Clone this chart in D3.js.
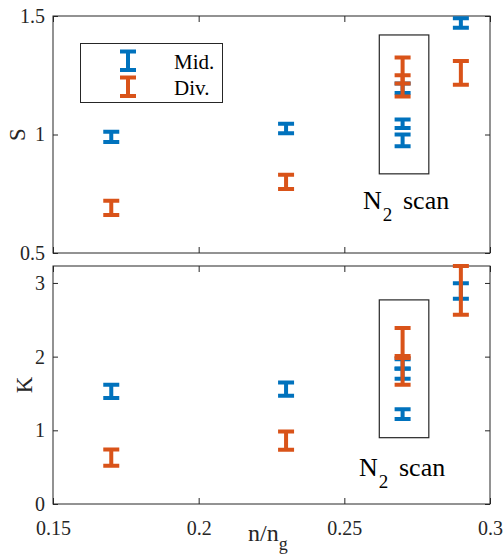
<!DOCTYPE html>
<html>
<head>
<meta charset="utf-8">
<script src="https://cdn.jsdelivr.net/npm/d3@7"></script>
<style>
  html, body { margin: 0; padding: 0; background: #fff; }
  svg { display: block; }
  svg text { font-family: 'Liberation Serif', 'Times New Roman', serif; }
</style>
</head>
<body>
<div id="chart"></div>
<script>
// ---- data ----
const xTicks = [0.15, 0.2, 0.25, 0.3]
const sTicks = [0.5, 1, 1.5]
const kTicks = [0, 1, 2, 3]

// Mid. series (blue)
const midX = [0.17, 0.23, 0.27, 0.27, 0.27, 0.29]
const midS = [0.99, 1.025, 1.195, 1.045, 0.975, 1.47]
const midSErr = [0.022, 0.02, 0.02, 0.018, 0.025, 0.02]
const midK = [1.53, 1.56, 1.22, 1.90, 1.77, 2.89]
const midKErr = [0.09, 0.09, 0.065, 0.065, 0.07, 0.105]

// Div. series (orange)
const divX = [0.17, 0.23, 0.27, 0.27, 0.29]
const divS = [0.69, 0.80, 1.27, 1.205, 1.26]
const divSErr = [0.03, 0.03, 0.055, 0.045, 0.05]
const divK = [0.63, 0.86, 2.20, 1.80, 2.90]
const divKErr = [0.11, 0.125, 0.19, 0.18, 0.33]

// "N2 scan" boxes [x0, x1, y0, y1]
const scanBoxS = [0.262, 0.279, 0.834, 1.42]
const scanBoxK = [0.262, 0.279, 0.9, 2.77]

const BLUE = '#0072BD'
const ORANGE = '#D95319'
const AXIS = '#262626'

const W = 504, H = 556
const left = 53, right = 490
const top1 = 16, bot1 = 253
const top2 = 266, bot2 = 504
const capHalf = 8
const lw = 4

const svg = d3.select('#chart').append('svg')
  .attr('width', W).attr('height', H)

const x = d3.scaleLinear().domain([0.15, 0.3]).range([left, right])
const yS = d3.scaleLinear().domain([0.5, 1.5]).range([bot1, top1])
const yK = d3.scaleLinear().domain([0, 3.23]).range([bot2, top2])

function drawErrorBars(g, xs, ys, es, yScale, color) {
  const data = xs.map((v, i) => ({ x: v, y: ys[i], e: es[i] }))
  const bars = g.append('g')
    .attr('stroke', color).attr('stroke-width', lw).attr('fill', 'none')
  bars.selectAll('path').data(data).join('path')
    .attr('d', d => {
      const cx = x(d.x)
      const y0 = yScale(d.y - d.e), y1 = yScale(d.y + d.e)
      return `M${cx},${y0}V${y1}` +
        `M${cx - capHalf},${y0}H${cx + capHalf}` +
        `M${cx - capHalf},${y1}H${cx + capHalf}`
    })
}

function drawPanel(yScale, yTicks, y0, y1, showX) {
  const g = svg.append('g')

  g.append('rect')
    .attr('x', left).attr('y', y0)
    .attr('width', right - left).attr('height', y1 - y0)
    .attr('fill', '#fff')

  const styleAxis = a => {
    a.attr('font-family', null)
    a.select('.domain').remove()
    a.selectAll('.tick line').attr('stroke', AXIS)
    a.selectAll('.tick text')
      .attr('fill', AXIS).attr('font-size', '20px')
  }

  g.append('g')
    .attr('transform', `translate(${left},0)`)
    .call(d3.axisLeft(yScale).tickValues(yTicks).tickSize(-5).tickSizeOuter(0)
      .tickPadding(8).tickFormat(d3.format('')))
    .call(styleAxis)
  g.append('g')
    .attr('transform', `translate(${right},0)`)
    .call(d3.axisRight(yScale).tickValues(yTicks).tickSize(-5).tickSizeOuter(0)
      .tickFormat(''))
    .call(styleAxis)
  g.append('g')
    .attr('transform', `translate(0,${y0})`)
    .call(d3.axisTop(x).tickValues(xTicks).tickSize(-6).tickSizeOuter(0)
      .tickFormat(''))
    .call(styleAxis)
  g.append('g')
    .attr('transform', `translate(0,${y1})`)
    .call(d3.axisBottom(x).tickValues(xTicks).tickSize(-6).tickSizeOuter(0)
      .tickPadding(12).tickFormat(showX ? d3.format('') : ''))
    .call(styleAxis)
    .call(a => a.selectAll('.tick text').attr('dy', '0.95em'))

  g.append('rect')
    .attr('x', left).attr('y', y0)
    .attr('width', right - left).attr('height', y1 - y0)
    .attr('fill', 'none').attr('stroke', AXIS).attr('stroke-width', 1)
  return g
}

// ---- top panel: S ----
const gS = drawPanel(yS, sTicks, top1, bot1, false)
drawErrorBars(gS, midX, midS, midSErr, yS, BLUE)
drawErrorBars(gS, divX, divS, divSErr, yS, ORANGE)

gS.append('rect')
  .attr('x', x(scanBoxS[0])).attr('y', yS(scanBoxS[3]))
  .attr('width', x(scanBoxS[1]) - x(scanBoxS[0]))
  .attr('height', yS(scanBoxS[2]) - yS(scanBoxS[3]))
  .attr('fill', 'none').attr('stroke', AXIS).attr('stroke-width', 1.2)

// legend
const leg = gS.append('g')
leg.append('rect')
  .attr('x', 80.5).attr('y', 43.5).attr('width', 142).attr('height', 59)
  .attr('fill', '#fff').attr('stroke', AXIS).attr('stroke-width', 1)
const legItems = [
  { label: 'Mid.', color: BLUE, y0: 51.5, y1: 70, ty: 68.5 },
  { label: 'Div.', color: ORANGE, y0: 77.5, y1: 96, ty: 95 }
]
legItems.forEach(d => {
  leg.append('path')
    .attr('d', `M128,${d.y0}V${d.y1}M${128 - capHalf},${d.y0}H${128 + capHalf}M${128 - capHalf},${d.y1}H${128 + capHalf}`)
    .attr('stroke', d.color).attr('stroke-width', lw).attr('fill', 'none')
  leg.append('text')
    .attr('x', 174).attr('y', d.ty)
    .attr('font-size', '21px').attr('fill', '#000')
    .text(d.label)
})

function scanLabel(g, tx, ty) {
  const t = g.append('text')
    .attr('x', tx).attr('y', ty)
    .attr('font-size', '26px').attr('fill', '#000')
  t.append('tspan').text('N')
  t.append('tspan').attr('font-size', '19px').attr('dx', 1).attr('dy', 12).text('2')
  t.append('tspan').attr('x', tx + 40).attr('dy', -12).text('scan')
}
scanLabel(gS, 363, 209)

// y label S
svg.append('text')
  .attr('transform', `translate(25,${(top1 + bot1) / 2}) rotate(-90)`)
  .attr('text-anchor', 'middle')
  .attr('font-size', '23px').attr('fill', AXIS)
  .text('S')

// ---- bottom panel: K ----
const gK = drawPanel(yK, kTicks, top2, bot2, true)
drawErrorBars(gK, midX, midK, midKErr, yK, BLUE)
drawErrorBars(gK, divX, divK, divKErr, yK, ORANGE)

gK.append('rect')
  .attr('x', x(scanBoxK[0])).attr('y', yK(scanBoxK[3]))
  .attr('width', x(scanBoxK[1]) - x(scanBoxK[0]))
  .attr('height', yK(scanBoxK[2]) - yK(scanBoxK[3]))
  .attr('fill', 'none').attr('stroke', AXIS).attr('stroke-width', 1.2)

scanLabel(gK, 359, 476)

svg.append('text')
  .attr('transform', `translate(32,${(top2 + bot2) / 2}) rotate(-90)`)
  .attr('text-anchor', 'middle')
  .attr('font-size', '23px').attr('fill', AXIS)
  .text('K')

// x label n/n_g
const xl = svg.append('text')
  .attr('x', 248).attr('y', 541)
  .attr('font-size', '24px').attr('fill', AXIS)
xl.append('tspan').text('n/n')
xl.append('tspan').attr('font-size', '18px').attr('dy', 9).text('g')
</script>
</body>
</html>
